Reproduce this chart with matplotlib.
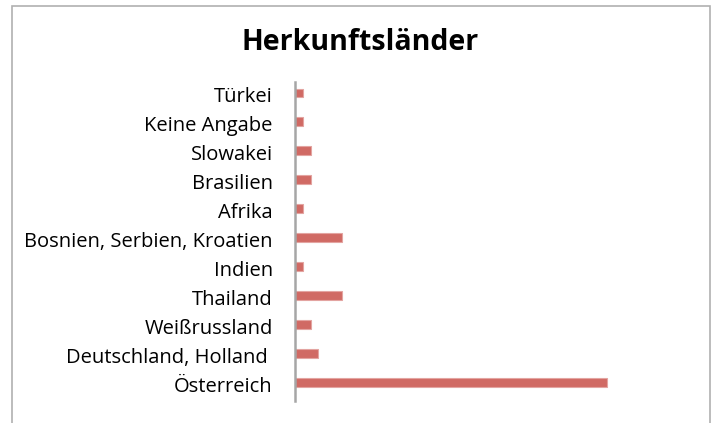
import matplotlib
matplotlib.use("Agg")
import matplotlib.pyplot as plt
import matplotlib.transforms as mtransforms
from matplotlib.patches import Rectangle

categories = ["Österreich", "Deutschland, Holland ", "Weißrussland", "Thailand", "Indien",
              "Bosnien, Serbien, Kroatien", "Afrika", "Brasilien", "Slowakei",
              "Keine Angabe", "Türkei"]
values = [40, 3, 2, 6, 1, 6, 1, 2, 2, 1, 1]
title = "Herkunftsländer"

plt.rcParams['font.family'] = ['Open Sans', 'DejaVu Sans']

W, H = 718, 423
top_px, bot_px = 82.3, 400.7
fig = plt.figure(figsize=(W / 100, H / 100), dpi=100)
ax = fig.add_axes([295 / W, 1 - bot_px / H, (685 - 295) / W, (bot_px - top_px) / H])

ax.barh(range(len(categories)), values, height=0.29, color='#D06A64',
        edgecolor='#E3A4A1', linewidth=0.8)
ax.set_xlim(0, 50)
ax.set_ylim(-0.635, len(categories) - 1 + 0.36)
ax.set_yticks(range(len(categories)))
ax.set_yticklabels(categories, fontsize=14.5)
ax.tick_params(axis='y', length=0, pad=16)
ax.set_xticks([])
for s in ['top', 'right', 'bottom']:
    ax.spines[s].set_visible(False)
ax.spines['left'].set_color('#A6A6A6')
ax.spines['left'].set_linewidth(1.8)

offset = mtransforms.ScaledTranslation(0, -2 / 100, fig.dpi_scale_trans)
for lbl in ax.get_yticklabels():
    lbl.set_transform(lbl.get_transform() + offset)

fig.text(360 / W, 1 - 50 / H, title, ha='center', va='baseline',
         fontsize=20.5, fontweight='bold')

border = Rectangle((12 / W, -0.1), (710 - 12) / W, (1 - 6 / H) + 0.1,
                   transform=fig.transFigure, fill=False, edgecolor='#B0B0B0',
                   linewidth=1.2)
fig.patches.append(border)

fig.savefig("out.png", dpi=100)
